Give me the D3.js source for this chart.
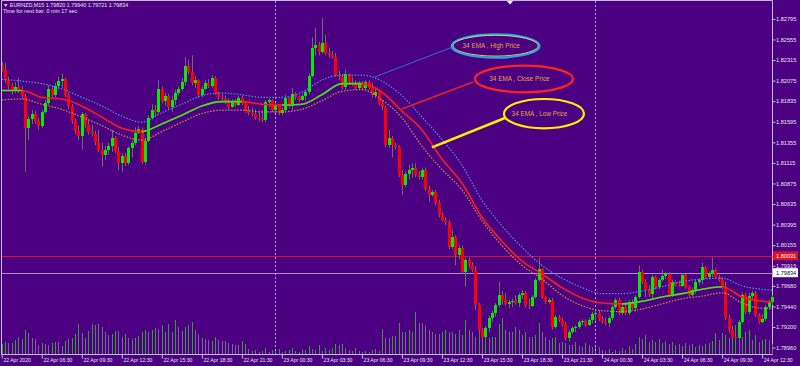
<!DOCTYPE html>
<html><head><meta charset="utf-8">
<script src="https://cdn.jsdelivr.net/npm/d3@7/dist/d3.min.js"></script>
<style>
html,body{margin:0;padding:0;background:#4b0082;overflow:hidden;}
svg{display:block;font-family:"Liberation Sans",Arial,sans-serif;}
</style></head><body>
<svg id="chart" width="800" height="366"></svg>
<script>
// ================= DATA =================
const symbolTitle = "EURNZD,M15";
const headerQuote = [1.79820, 1.79940, 1.79721, 1.79834];
const timerText = "Time for next bar: 0 min 17 sec";

const opens = [1.8225,1.8220,1.8208,1.8201,1.8195,1.8200,1.8197,1.8190,1.8152,1.8163,1.8169,1.8160,
1.8155,1.8171,1.8181,1.8198,1.8191,1.8201,1.8207,1.8209,1.8191,1.8178,1.8160,1.8149,
1.8143,1.8169,1.8156,1.8148,1.8145,1.8136,1.8127,1.8121,1.8127,1.8131,1.8141,1.8125,
1.8111,1.8120,1.8111,1.8129,1.8135,1.8146,1.8151,1.8113,1.8137,1.8164,1.8173,1.8171,
1.8198,1.8184,1.8190,1.8177,1.8185,1.8193,1.8198,1.8206,1.8225,1.8218,1.8205,1.8208,
1.8191,1.8198,1.8205,1.8201,1.8211,1.8193,1.8187,1.8186,1.8183,1.8177,1.8184,1.8179,
1.8187,1.8181,1.8172,1.8170,1.8169,1.8164,1.8163,1.8162,1.8183,1.8185,1.8173,1.8179,
1.8170,1.8173,1.8187,1.8178,1.8192,1.8188,1.8185,1.8190,1.8194,1.8213,1.8246,1.8249,
1.8241,1.8251,1.8240,1.8237,1.8235,1.8214,1.8212,1.8200,1.8215,1.8206,1.8205,1.8199,
1.8205,1.8199,1.8206,1.8199,1.8191,1.8194,1.8181,1.8177,1.8132,1.8141,1.8132,1.8130,
1.8097,1.8086,1.8099,1.8103,1.8106,1.8097,1.8095,1.8103,1.8081,1.8074,1.8078,1.8065,
1.8051,1.8045,1.8043,1.8013,1.8025,1.8004,1.8012,1.7984,1.7998,1.7992,1.7987,1.7946,
1.7917,1.7908,1.7919,1.7931,1.7936,1.7946,1.7957,1.7952,1.7947,1.7949,1.7950,1.7948,
1.7957,1.7960,1.7946,1.7945,1.7955,1.7975,1.7988,1.7955,1.7949,1.7952,1.7920,1.7932,
1.7928,1.7922,1.7907,1.7914,1.7919,1.7920,1.7926,1.7927,1.7922,1.7928,1.7935,1.7936,
1.7929,1.7926,1.7925,1.7931,1.7943,1.7952,1.7936,1.7943,1.7936,1.7949,1.7942,1.7955,
1.7984,1.7973,1.7963,1.7959,1.7978,1.7967,1.7975,1.7980,1.7982,1.7957,1.7973,1.7969,
1.7968,1.7981,1.7967,1.7957,1.7963,1.7973,1.7975,1.7990,1.7978,1.7983,1.7987,1.7978,
1.7975,1.7967,1.7931,1.7917,1.7908,1.7907,1.7926,1.7957,1.7938,1.7956,1.7960,1.7934,
1.7926,1.7929,1.7943,1.7949];

const highs = [1.8229,1.8228,1.8212,1.8205,1.8206,1.8211,1.8201,1.8192,1.8166,1.8173,1.8172,1.8164,
1.8173,1.8185,1.8202,1.8201,1.8205,1.8212,1.8216,1.8211,1.8194,1.8180,1.8163,1.8155,
1.8171,1.8170,1.8162,1.8156,1.8149,1.8150,1.8135,1.8131,1.8135,1.8150,1.8143,1.8130,
1.8123,1.8123,1.8131,1.8138,1.8153,1.8155,1.8153,1.8141,1.8167,1.8180,1.8179,1.8208,
1.8201,1.8193,1.8192,1.8190,1.8197,1.8201,1.8211,1.8235,1.8232,1.8237,1.8213,1.8209,
1.8201,1.8208,1.8209,1.8214,1.8213,1.8195,1.8192,1.8190,1.8187,1.8186,1.8186,1.8190,
1.8190,1.8184,1.8178,1.8176,1.8174,1.8172,1.8173,1.8185,1.8187,1.8186,1.8181,1.8180,
1.8176,1.8191,1.8188,1.8199,1.8194,1.8191,1.8192,1.8197,1.8216,1.8258,1.8269,1.8253,
1.8281,1.8261,1.8246,1.8242,1.8240,1.8219,1.8215,1.8220,1.8216,1.8212,1.8208,1.8207,
1.8207,1.8208,1.8208,1.8205,1.8198,1.8195,1.8185,1.8179,1.8150,1.8143,1.8135,1.8132,
1.8103,1.8101,1.8109,1.8111,1.8111,1.8102,1.8106,1.8106,1.8085,1.8080,1.8080,1.8068,
1.8054,1.8048,1.8045,1.8033,1.8027,1.8015,1.8015,1.8001,1.8001,1.7996,1.7991,1.7948,
1.7919,1.7921,1.7933,1.7939,1.7948,1.7973,1.7962,1.7960,1.7952,1.7953,1.7957,1.7960,
1.7963,1.7962,1.7953,1.7957,1.7977,1.8001,1.7989,1.7956,1.7954,1.7954,1.7934,1.7934,
1.7931,1.7926,1.7917,1.7921,1.7922,1.7928,1.7929,1.7929,1.7931,1.7938,1.7940,1.7939,
1.7933,1.7931,1.7933,1.7946,1.7954,1.7954,1.7946,1.7946,1.7952,1.7952,1.7957,1.7992,
1.7987,1.7976,1.7969,1.7981,1.7980,1.7977,1.7987,1.7984,1.7984,1.7975,1.7975,1.7974,
1.7983,1.7982,1.7969,1.7966,1.7975,1.7977,1.7995,1.7991,1.7985,1.8001,1.7988,1.7981,
1.7978,1.7973,1.7934,1.7921,1.7917,1.7928,1.7960,1.7960,1.7960,1.7962,1.7962,1.7936,
1.7935,1.7946,1.7952,1.7957];

const lows = [1.8218,1.8205,1.8197,1.8191,1.8193,1.8193,1.8186,1.8101,1.8138,1.8157,1.8157,1.8150,
1.8152,1.8169,1.8179,1.8187,1.8188,1.8197,1.8199,1.8188,1.8174,1.8157,1.8145,1.8138,
1.8127,1.8152,1.8144,1.8142,1.8132,1.8124,1.8107,1.8115,1.8121,1.8124,1.8123,1.8103,
1.8101,1.8108,1.8109,1.8118,1.8132,1.8145,1.8110,1.8109,1.8136,1.8162,1.8166,1.8169,
1.8181,1.8178,1.8174,1.8171,1.8179,1.8190,1.8195,1.8202,1.8215,1.8202,1.8199,1.8187,
1.8188,1.8197,1.8199,1.8199,1.8191,1.8185,1.8184,1.8180,1.8174,1.8176,1.8177,1.8178,
1.8179,1.8170,1.8167,1.8166,1.8162,1.8160,1.8159,1.8159,1.8176,1.8171,1.8170,1.8167,
1.8167,1.8170,1.8176,1.8173,1.8185,1.8183,1.8184,1.8184,1.8191,1.8211,1.8237,1.8237,
1.8239,1.8237,1.8234,1.8233,1.8212,1.8208,1.8197,1.8197,1.8202,1.8201,1.8197,1.8197,
1.8197,1.8197,1.8197,1.8188,1.8187,1.8179,1.8173,1.8130,1.8129,1.8118,1.8127,1.8095,
1.8074,1.8083,1.8092,1.8094,1.8095,1.8092,1.8092,1.8079,1.8066,1.8072,1.8062,1.8048,
1.8043,1.8039,1.8011,1.8011,1.7992,1.7999,1.7982,1.7967,1.7989,1.7984,1.7940,1.7908,
1.7905,1.7904,1.7914,1.7926,1.7932,1.7943,1.7946,1.7945,1.7942,1.7943,1.7946,1.7943,
1.7953,1.7943,1.7941,1.7943,1.7953,1.7973,1.7953,1.7947,1.7947,1.7917,1.7918,1.7926,
1.7920,1.7904,1.7903,1.7912,1.7914,1.7918,1.7922,1.7920,1.7921,1.7924,1.7927,1.7927,
1.7924,1.7922,1.7920,1.7928,1.7941,1.7934,1.7934,1.7934,1.7934,1.7940,1.7938,1.7953,
1.7970,1.7955,1.7955,1.7953,1.7964,1.7964,1.7973,1.7976,1.7955,1.7955,1.7967,1.7967,
1.7967,1.7964,1.7955,1.7956,1.7959,1.7969,1.7970,1.7976,1.7975,1.7978,1.7976,1.7973,
1.7964,1.7928,1.7913,1.7906,1.7904,1.7905,1.7924,1.7935,1.7935,1.7953,1.7932,1.7924,
1.7924,1.7927,1.7940,1.7946];

const closes = [1.8220,1.8208,1.8201,1.8195,1.8200,1.8197,1.8190,1.8152,1.8163,1.8169,1.8160,1.8155,
1.8171,1.8181,1.8198,1.8191,1.8201,1.8207,1.8209,1.8191,1.8178,1.8160,1.8149,1.8143,
1.8169,1.8156,1.8148,1.8145,1.8136,1.8127,1.8121,1.8127,1.8131,1.8141,1.8125,1.8111,
1.8120,1.8111,1.8129,1.8135,1.8146,1.8151,1.8113,1.8137,1.8164,1.8173,1.8171,1.8198,
1.8184,1.8190,1.8177,1.8185,1.8193,1.8198,1.8206,1.8225,1.8218,1.8205,1.8208,1.8191,
1.8198,1.8205,1.8201,1.8211,1.8193,1.8187,1.8186,1.8183,1.8177,1.8184,1.8179,1.8187,
1.8181,1.8172,1.8170,1.8169,1.8164,1.8163,1.8162,1.8183,1.8185,1.8173,1.8179,1.8170,
1.8173,1.8187,1.8178,1.8192,1.8188,1.8185,1.8190,1.8194,1.8213,1.8246,1.8249,1.8241,
1.8251,1.8240,1.8237,1.8235,1.8214,1.8212,1.8200,1.8215,1.8206,1.8205,1.8199,1.8205,
1.8199,1.8206,1.8199,1.8191,1.8194,1.8181,1.8177,1.8132,1.8141,1.8132,1.8130,1.8097,
1.8086,1.8099,1.8103,1.8106,1.8097,1.8095,1.8103,1.8081,1.8074,1.8078,1.8065,1.8051,
1.8045,1.8043,1.8013,1.8025,1.8004,1.8012,1.7984,1.7998,1.7992,1.7987,1.7946,1.7917,
1.7908,1.7919,1.7931,1.7936,1.7946,1.7957,1.7952,1.7947,1.7949,1.7950,1.7948,1.7957,
1.7960,1.7946,1.7945,1.7955,1.7975,1.7988,1.7955,1.7949,1.7952,1.7920,1.7932,1.7928,
1.7922,1.7907,1.7914,1.7919,1.7920,1.7926,1.7927,1.7922,1.7928,1.7935,1.7936,1.7929,
1.7926,1.7925,1.7931,1.7943,1.7952,1.7936,1.7943,1.7936,1.7949,1.7942,1.7955,1.7984,
1.7973,1.7963,1.7959,1.7978,1.7967,1.7975,1.7980,1.7982,1.7957,1.7973,1.7969,1.7968,
1.7981,1.7967,1.7957,1.7963,1.7973,1.7975,1.7990,1.7978,1.7983,1.7987,1.7978,1.7975,
1.7967,1.7931,1.7917,1.7908,1.7907,1.7926,1.7957,1.7938,1.7956,1.7960,1.7934,1.7926,
1.7929,1.7943,1.7949,1.7955];

const volumes = [200,
240,220,220,280,340,300,480,420,320,300,
180,220,200,180,220,240,240,160,260,300,
320,400,600,420,320,460,600,580,600,540,
440,380,400,460,460,340,400,320,300,320,
360,440,480,440,480,520,500,580,440,600,
440,680,540,460,540,580,640,480,400,320,
300,280,260,340,280,260,260,220,200,180,
180,260,200,
100,60,80,40,60,120,40,80,60,100,40,60,80,120,60,40,100,80,
160,100,80,180,60,120,80,120,200,180,200,120,80,60,120,60,40,60,40,80,100,60,
500,320,320,360,360,620,440,440,480,440,840,620,620,580,480,440,400,400,440,480,
440,440,400,480,380,680,480,440,340,620,340,380,320,340,340,600,720,480,440,440,
540,480,380,440,340,340,380,620,440,340,280,320,340,220,240,220,180,180,240,160,
140,220,180,140,180,140,
80,60,100,40,80,60,120,80,
160,100,200,340,300,380,240,280,240,300,220,260,200,240,180,200,160,220,180,200,
140,180,160,200,220,260,420,280,420,380,320,380,580,440,340,440,480,280,380,240,
280,300,280,200];

// 34-period EMA readings (bar index of each reading)
const emaIdx = [0,6,12,18,24,30,36,42,48,54,60,66,72,78,84,90,96,102,108,114,120,126,132,138,144,150,156,162,168,174,180,186,192,198,204,210,216,222,228,231];
const emaHigh = [1.8209,1.8207,1.8204,1.8198,1.8188,1.8178,1.8166,1.8159,1.8170,1.8180,1.8190,1.8193,1.8191,1.8188,1.8188,1.8194,1.8208,1.8214,1.8214,1.8207,1.8190,1.8165,1.8139,1.8109,1.8068,1.8038,1.8013,1.7992,1.7977,1.7966,1.7959,1.7959,1.7962,1.7967,1.7973,1.7976,1.7977,1.7968,1.7964,1.7963];
const emaClose = [1.8196,1.8196,1.8188,1.8186,1.8178,1.8165,1.8152,1.8148,1.8157,1.8167,1.8178,1.8183,1.8183,1.8180,1.8179,1.8180,1.8191,1.8204,1.8204,1.8194,1.8172,1.8150,1.8116,1.8088,1.8048,1.8020,1.7997,1.7982,1.7966,1.7954,1.7948,1.7947,1.7950,1.7955,1.7959,1.7964,1.7967,1.7955,1.7950,1.7949];
const emaLow = [1.8185,1.8186,1.8180,1.8174,1.8165,1.8155,1.8144,1.8138,1.8148,1.8159,1.8169,1.8173,1.8173,1.8171,1.8171,1.8174,1.8184,1.8195,1.8197,1.8185,1.8164,1.8131,1.8104,1.8080,1.8044,1.8015,1.7992,1.7976,1.7957,1.7945,1.7939,1.7938,1.7941,1.7947,1.7953,1.7956,1.7960,1.7948,1.7942,1.7942];

const priceTicks = [1.82795,1.82555,1.82315,1.82075,1.81835,1.81595,1.81355,1.81115,1.80875,1.80635,1.80395,1.80155,1.79915,1.79680,1.79440,1.79200,1.78960];
const timeTickIdx = [0,12,24,36,48,60,72,84,96,108,120,132,144,156,168,180,192,204,216,228];
const timeLabels = ["22 Apr 2020","22 Apr 06:30","22 Apr 09:30","22 Apr 12:30","22 Apr 15:30","22 Apr 18:30","22 Apr 21:30","23 Apr 00:30","23 Apr 03:30","23 Apr 06:30","23 Apr 09:30","23 Apr 12:30","23 Apr 15:30","23 Apr 18:30","23 Apr 21:30","24 Apr 00:30","24 Apr 03:30","24 Apr 06:30","24 Apr 09:30","24 Apr 12:30"];
const daySeparatorIdx = [82, 178];
const alertLevel = 1.80031;
const bidPrice = 1.79834;

const annotationLabels = ["34 EMA , High Price","34 EMA , Close Price","34 EMA , Low Price"];
const annotationCenters = [[148.1,1.82479],[156.6,1.82094],[162.6,1.81689]];
const annotationFrom = [[135.3,1.82468],[141.3,1.82059],[150.9,1.81639]];
const annotationTo = [[111.9,1.82118],[120.0,1.81744],[129.0,1.81297]];

// ================= STYLE =================
const BG = "#4b0082", AXIS = "#c4bcd4", TXT = "#e8e4f0";
const BULL = "#00ee00", BEAR = "#ff0000", WICK = "#687068";
const VOL_UP = "#3a9a3a", VOL_DN = "#6e6e88";
const EMA_UP = "#2ee62e", EMA_DN = "#ff1a1a", EMA_HI = "#4592ec", EMA_LO = "#d0904e";
const annRadii = [[44,11.7],[49,13.3],[40,14.7]];
const annStroke = ["#1fa6ee","#ff2222","#ffee00"];
const annLine = ["#2f6fd0","#e42424","#ffee00"];
const annLineW = [1,1.5,2.5];
const annText = "#eaa040";

// ================= RENDER =================
const svg = d3.select("#chart");
const W = 800, H = 366;
const plotRight = 772.5, plotBottom = 354.5;
const x = d3.scaleLinear().domain([0, 231]).range([1.7, 772.1]);
const y = d3.scaleLinear().domain([1.78960, 1.82795]).range([347.6, 18.9]);
const vy = d3.scaleLinear().domain([0, 1000]).range([354, 304]);
const bars = d3.range(opens.length);

svg.append("rect").attr("width", W).attr("height", H).attr("fill", BG);
const defs = svg.append("defs");
defs.append("clipPath").attr("id", "plot").append("rect")
  .attr("x", 2).attr("y", 1).attr("width", 773).attr("height", 353);

// frame / axes lines
svg.append("path").attr("d", `M1.5,354.5 V0.5 H${plotRight} V${plotBottom} H1.5`)
  .attr("fill", "none").attr("stroke", AXIS).attr("stroke-width", 1);

const g = svg.append("g").attr("clip-path", "url(#plot)");

// volumes
g.append("g").selectAll("line").data(bars).join("line")
  .attr("x1", i => Math.round(x(i)) + 0.5).attr("x2", i => Math.round(x(i)) + 0.5)
  .attr("y1", vy(0)).attr("y2", i => vy(volumes[i]))
  .attr("stroke", i => (i > 0 && volumes[i] > volumes[i - 1]) || i === 0 ? VOL_UP : VOL_DN)
  .attr("stroke-width", 1).attr("shape-rendering", "crispEdges");

// day separators
g.append("g").selectAll("line").data(daySeparatorIdx).join("line")
  .attr("x1", d => Math.round(x(d)) + 0.5).attr("x2", d => Math.round(x(d)) + 0.5)
  .attr("y1", 1).attr("y2", 354).attr("stroke", "#b8a2dc")
  .attr("stroke-dasharray", "2,2").attr("stroke-width", 1);

// horizontal levels
g.append("line").attr("x1", 2).attr("x2", plotRight).attr("y1", Math.round(y(alertLevel)) + 0.5)
  .attr("y2", Math.round(y(alertLevel)) + 0.5).attr("stroke", "#d8102e").attr("stroke-width", 1);
g.append("line").attr("x1", 2).attr("x2", plotRight).attr("y1", Math.round(y(bidPrice)) + 0.5)
  .attr("y2", Math.round(y(bidPrice)) + 0.5).attr("stroke", "#a890c8").attr("stroke-width", 1);

// candles
const cg = g.append("g");
cg.selectAll("line").data(bars).join("line")
  .attr("x1", i => Math.round(x(i)) + 0.5).attr("x2", i => Math.round(x(i)) + 0.5)
  .attr("y1", i => y(highs[i])).attr("y2", i => y(lows[i]))
  .attr("stroke", WICK).attr("stroke-width", 1);
cg.selectAll("rect").data(bars).join("rect")
  .attr("x", i => Math.round(x(i)) - 1).attr("width", 3)
  .attr("y", i => Math.min(y(opens[i]), y(closes[i])))
  .attr("height", i => Math.max(1, Math.abs(y(opens[i]) - y(closes[i]))))
  .attr("fill", i => closes[i] >= opens[i] ? BULL : BEAR)
  .attr("shape-rendering", "crispEdges");

// EMA lines
const line = d3.line().x(d => x(d[0])).y(d => y(d[1])).curve(d3.curveMonotoneX);
const ptsOf = arr => emaIdx.map((d, k) => [d, arr[k]]);
g.append("path").attr("d", line(ptsOf(emaHigh))).attr("fill", "none")
  .attr("stroke", EMA_HI).attr("stroke-width", 1.2).attr("stroke-dasharray", "1.5,1.5");
g.append("path").attr("d", line(ptsOf(emaLow))).attr("fill", "none")
  .attr("stroke", EMA_LO).attr("stroke-width", 1.2).attr("stroke-dasharray", "1.5,1.5");

const closePath = line(ptsOf(emaClose));
const greenSegs = [];
let rising = true;
for (let k = 0; k < emaClose.length - 1; k++) {
  if (emaClose[k + 1] > emaClose[k]) rising = true;
  else if (emaClose[k + 1] < emaClose[k]) rising = false;
  if (rising) greenSegs.push(k);
}
defs.append("clipPath").attr("id", "emaUp").selectAll("rect").data(greenSegs).join("rect")
  .attr("x", k => x(emaIdx[k])).attr("width", k => x(emaIdx[k + 1]) - x(emaIdx[k]))
  .attr("y", 0).attr("height", H);
g.append("path").attr("d", closePath).attr("fill", "none")
  .attr("stroke", EMA_DN).attr("stroke-width", 1.6);
g.append("path").attr("d", closePath).attr("fill", "none").attr("clip-path", "url(#emaUp)")
  .attr("stroke", EMA_UP).attr("stroke-width", 1.6);

// annotations
const ag = svg.append("g");
annotationLabels.forEach((lab, k) => {
  const [fx, fy] = [x(annotationFrom[k][0]), y(annotationFrom[k][1])];
  const [tx, ty] = [x(annotationTo[k][0]), y(annotationTo[k][1])];
  ag.append("line").attr("x1", fx).attr("y1", fy).attr("x2", tx).attr("y2", ty)
    .attr("stroke", annLine[k]).attr("stroke-width", annLineW[k]);
  const cx = x(annotationCenters[k][0]), cy = y(annotationCenters[k][1]);
  const [rx, ry] = annRadii[k];
  ag.append("ellipse").attr("cx", cx).attr("cy", cy).attr("rx", rx).attr("ry", ry)
    .attr("fill", "none").attr("stroke", annStroke[k]).attr("stroke-width", 2.2);
  if (k === 0) {
    ag.append("ellipse").attr("cx", cx).attr("cy", cy - 0.3).attr("rx", rx - 1.4).attr("ry", ry - 1.3)
      .attr("fill", "none").attr("stroke", "#e6e040").attr("stroke-width", 0.9);
  }
  ag.append("text").attr("x", cx - 4.5).attr("y", cy).attr("dy", "0.35em")
    .attr("text-anchor", "middle").attr("font-size", 6.4).attr("fill", annText).text(lab);
});

// right price axis
const yAxis = d3.axisRight(y).tickValues(priceTicks).tickFormat(d3.format(".5f"))
  .tickSize(3).tickPadding(0.6);
const ya = svg.append("g").attr("transform", `translate(${plotRight},0)`).call(yAxis);
ya.select(".domain").remove();
ya.attr("font-family", null).attr("font-size", null);
ya.selectAll("line").attr("stroke", AXIS);
ya.selectAll("text").attr("fill", TXT).attr("font-size", 5.6)
  .attr("font-family", '"Liberation Sans",Arial,sans-serif');

// price boxes
const boxes = [[alertLevel, "#e0102a", "#ffffff"], [bidPrice, "#ffffff", "#101010"]];
boxes.forEach(([v, bg, fg]) => {
  const yy = y(v);
  svg.append("rect").attr("x", 773).attr("y", yy - 4.5).attr("width", 25).attr("height", 9).attr("fill", bg);
  svg.append("text").attr("x", 776).attr("y", yy).attr("dy", "0.35em").attr("font-size", 5.6)
    .attr("fill", fg).text(d3.format(".5f")(v));
});

// bottom time axis
const xAxis = d3.axisBottom(x).tickValues(timeTickIdx).tickFormat((d, i) => timeLabels[i]).tickSize(4);
const xa = svg.append("g").attr("transform", `translate(0,${plotBottom})`).call(xAxis);
xa.select(".domain").remove();
xa.attr("font-family", null).attr("font-size", null);
xa.selectAll("line").attr("stroke", AXIS);
xa.selectAll("text").attr("fill", TXT).attr("font-size", 5.1).attr("text-anchor", "start")
  .attr("x", 1.2).attr("y", 3.4).attr("dy", "0.71em")
  .attr("font-family", '"Liberation Sans",Arial,sans-serif');

// header
svg.append("text").attr("x", 3).attr("y", 7).attr("font-size", 5.4).attr("fill", TXT)
  .text("\u25BC " + symbolTitle + "  " + headerQuote.map(d3.format(".5f")).join(" "));
svg.append("text").attr("x", 3).attr("y", 13.2).attr("font-size", 5.4).attr("fill", TXT).text(timerText);

// shift marker at top
svg.append("path").attr("d", "M507,1 L513,1 L510,4.5 Z").attr("fill", "#ffffff");
</script>
</body></html>
